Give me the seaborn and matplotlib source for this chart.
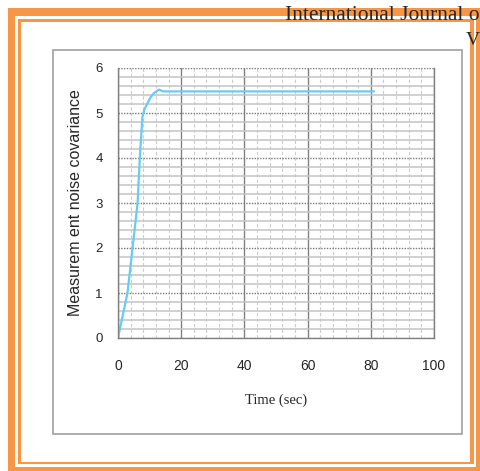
import numpy as np
import pandas as pd
import matplotlib
matplotlib.use("Agg")
import matplotlib.pyplot as plt
from matplotlib.patches import Rectangle
from matplotlib.ticker import MultipleLocator
import seaborn as sns

# donnees
temps = [0, 3.0, 4.6, 6.2, 6.9, 7.7, 8.3, 9.0, 10.3, 11.5, 13.0, 14.2, 81.0]
covariance = [0, 1.0, 2.0, 3.0, 4.0, 4.9, 5.07, 5.17, 5.35, 5.45, 5.52, 5.48, 5.48]
x_ticks = [0, 20, 40, 60, 80, 100]
y_ticks = [0, 1, 2, 3, 4, 5, 6]

df = pd.DataFrame({"Time (sec)": temps, "cov": covariance})

sns.set_style("white")

W, H = 480, 471
fig = plt.figure(figsize=(W / 100, H / 100), dpi=100)


def px_box(x0, y0, x1, y1):
    # boite en pixels (origine en haut a gauche) -> fraction de figure
    return x0 / W, 1 - y1 / H, (x1 - x0) / W, (y1 - y0) / H


orange = "#F79646"
# cadre orange epais
for b in [(8, 8, 480, 16), (8, 8, 15, 471), (476, 8, 480, 471), (8, 467, 480, 471)]:
    x, y, w, h = px_box(*b)
    fig.add_artist(Rectangle((x, y), w, h, transform=fig.transFigure,
                             facecolor=orange, edgecolor="none", zorder=0))
# cadre orange fin
for b in [(18, 19, 474, 22), (18, 19, 21, 464), (470, 19, 474, 464), (18, 462, 474, 464)]:
    x, y, w, h = px_box(*b)
    fig.add_artist(Rectangle((x, y), w, h, transform=fig.transFigure,
                             facecolor=orange, edgecolor="none", zorder=0))

# bordure grise de la zone du graphique
x, y, w, h = px_box(52.5, 49.5, 462, 434)
fig.add_artist(Rectangle((x, y), w, h, transform=fig.transFigure,
                         facecolor="none", edgecolor="#a0a0a0", lw=1.2, zorder=1))

# texte d'en-tete
fig.text(285 / W, 1 - 20 / H, "International Journal o", fontsize=15.5,
         family="Liberation Serif", va="baseline", ha="left")
fig.text(466 / W, 1 - 45 / H, "V", fontsize=14,
         family="Liberation Serif", va="baseline", ha="left")

ax = fig.add_axes(px_box(118, 68, 434, 338))

# grille facon Excel
ax.xaxis.set_major_locator(MultipleLocator(20))
ax.xaxis.set_minor_locator(MultipleLocator(4))
ax.yaxis.set_major_locator(MultipleLocator(1))
ax.yaxis.set_minor_locator(MultipleLocator(0.2))
ax.grid(which="minor", axis="y", color="#c4c4c4", lw=1.1, ls="-")
ax.grid(which="major", axis="y", color="#7a7a7a", lw=1.0, ls=(0, (1, 1)))
ax.grid(which="minor", axis="x", color="#cccccc", lw=0.8, ls=(0, (3, 2)))
ax.grid(which="major", axis="x", color="#808080", lw=1.0, ls="-")
ax.set_axisbelow(True)

sns.lineplot(data=df, x="Time (sec)", y="cov", ax=ax, color="#66CCF2", lw=1.6)

ax.set_xlim(0, 100)
ax.set_ylim(0, 6)
ax.set_xticks(x_ticks)
ax.set_yticks(y_ticks)
ax.set_xticklabels([str(t) for t in x_ticks], family="Liberation Sans", fontsize=10)
ax.set_yticklabels([str(t) for t in y_ticks], family="Liberation Sans", fontsize=9.5)
ax.tick_params(which="both", length=0)
ax.tick_params(axis="x", pad=15)
ax.tick_params(axis="y", pad=11)

for s in ["left", "bottom", "right"]:
    ax.spines[s].set_color("#808080")
    ax.spines[s].set_linewidth(1.0)
ax.spines["top"].set_visible(False)

ax.set_xlabel("Time (sec)", family="Liberation Serif", fontsize=10.5, labelpad=15)
ax.set_ylabel("Measurem ent noise covariance", family="Liberation Sans",
              fontsize=11.5, labelpad=9)

fig.savefig("out.png", dpi=100)
